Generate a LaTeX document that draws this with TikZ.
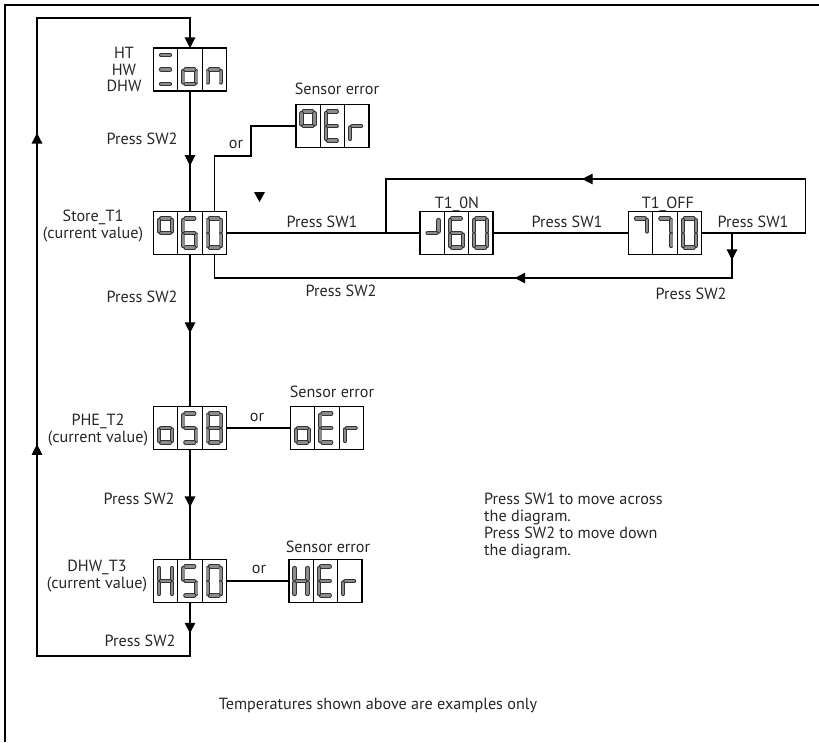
\documentclass[tikz,border=0pt]{standalone}
\usepackage{fontspec}
\setmainfont{PT Sans}
\usetikzlibrary{arrows.meta,positioning,decorations.markings}

% segments of one display cell (a..g), in pixels from the cell's top left corner
\newcommand{\lcda}{(7.5,7)--(16.5,7)}
\newcommand{\lcdb}{(18.5,8.5)--(18.5,20)}
\newcommand{\lcdc}{(18.5,23)--(18.5,34.5)}
\newcommand{\lcdd}{(7.5,36)--(16.5,36)}
\newcommand{\lcde}{(5.5,23)--(5.5,34.5)}
\newcommand{\lcdf}{(5.5,8.5)--(5.5,20)}
\newcommand{\lcdg}{(7.5,21.5)--(16.5,21.5)}

\newcommand{\lcdcell}[2]{%
  \foreach \s in {#2}{\draw[lcdseg,shift={(#1.north west)}] \csname lcd\s\endcsname;}}

% display with three cells: name, x, y, segments of each cell
\newcommand{\lcd}[6]{%
  \node[cell] (#1-2) at (#2,#3) {};
  \node[cell,left=0pt of #1-2] (#1-1) {};
  \node[cell,right=0pt of #1-2] (#1-3) {};
  \lcdcell{#1-1}{#4}\lcdcell{#1-2}{#5}\lcdcell{#1-3}{#6}}

\tikzset{
  cell/.style={draw,line width=0.9pt,minimum width=0.73cm,minimum height=1.29cm,inner sep=0pt,outer sep=0pt},
  lcdseg/.style={draw=black!80,line width=0.8pt,double=black!45,double distance=2pt,line cap=round},
  lbl/.style={font=\fontsize{13.8}{14.3}\selectfont,text=black!85,inner sep=0pt},
  flow/.style={line width=1pt},
  tipat/.style={postaction={decorate,decoration={markings,
      mark=at position #1 with {\arrow{Triangle[width=9pt,length=9pt]}}}}},
}

\begin{document}
\begin{tikzpicture}[x=0.03cm,y=-0.03cm]
    \useasboundingbox (0,0) rectangle (819,742);
    \draw[line width=1.6pt] (5,742) -- (5,5) -- (819,5);

    % displays
    \lcd{on}{190}{69.5}{a,g,d}{c,d,e,g}{c,e,g}
    \lcd{t1}{190}{233}{a,b,f,g}{a,c,d,e,f,g}{a,b,c,d,e,f}
    \lcd{er1}{332.5}{126}{a,b,f,g}{a,d,e,f,g}{e,g}
    \lcd{t1on}{456.5}{233}{b,g}{a,c,d,e,f,g}{a,b,c,d,e,f}
    \lcd{t1off}{665}{233}{a,b}{a,b,c}{a,b,c,d,e,f}
    \lcd{t2}{190}{428}{c,d,e,g}{a,c,d,f,g}{a,b,c,d,e,f,g}
    \lcd{er2}{327}{428}{c,d,e,g}{a,d,e,f,g}{e,g}
    \lcd{t3}{190}{581}{b,c,e,f,g}{a,c,d,f,g}{a,b,c,d,e,f}
    \lcd{er3}{325.5}{581}{b,c,e,f,g}{a,d,e,f,g}{e,g}

    % labels
    \node[lbl,align=center] (lon) at (124,69.5) {HT\\HW\\DHW};
    \node[lbl,align=center] (lt1) at (93,226) {Store\_T1\\(current value)};
    \node[lbl,align=center] (lt2) at (98,430) {PHE\_T2\\(current value)};
    \node[lbl,align=center] (lt3) at (97,576) {DHW\_T3\\(current value)};
    \node[lbl] (se1) at (337,89) {Sensor error};
    \node[lbl] (se2) at (332,392) {Sensor error};
    \node[lbl] (se3) at (328,547) {Sensor error};
    \node[lbl] (lon1) at (457,204) {T1\_0N};
    \node[lbl] (loff) at (668,204) {T1\_OFF};
    \node[lbl] (or1) at (236,144) {or};
    \node[lbl] (or2) at (257,417) {or};
    \node[lbl] (or3) at (259,569) {or};
    \node[lbl] (p1) at (142,139) {Press SW2};
    \node[lbl] (p2) at (142,297) {Press SW2};
    \node[lbl] (p3) at (139,499) {Press SW2};
    \node[lbl] (p4) at (140,641) {Press SW2};
    \node[lbl] (p5) at (322,222) {Press SW1};
    \node[lbl] (p6) at (567,222) {Press SW1};
    \node[lbl] (p7) at (753,222) {Press SW1};
    \node[lbl] (p8) at (341,291) {Press SW2};
    \node[lbl] (p9) at (691,294) {Press SW2};
    \node[lbl,align=left,anchor=west] (note) at (484,526)
        {Press SW1 to move across\\the diagram.\\Press SW2 to move down\\the diagram.};
    \node[lbl] (foot) at (378,705) {Temperatures shown above are examples only};

    % down the column
    \draw[flow,tipat=0.62] (on-2.south) -- (t1-2.north);
    \draw[flow,tipat=0.516] (t1-2.south) -- (t2-2.north);
    \draw[flow,tipat=0.523] (t2-2.south) -- (t3-2.north);
    \coordinate (lb) at (37,656);
    \coordinate (lt) at (37,18);
    \draw[flow,-{Triangle[width=9pt,length=9pt]},tipat/.list={0.03,0.407,0.71}]
        (t3-2.south) |- (lb) -- (lt) -| (on-2.north);

    % sensor errors
    \coordinate (jo) at (251,156);
    \draw[flow] (t1-3.north) |- (jo) |- (er1-1.west);
    \draw[flow] (t2-3.east) -- (er2-1.west);
    \draw[flow] (t3-3.east) -- (er3-1.west);

    % across
    \coordinate (jl) at (386,233);
    \coordinate (jd) at (732,233);
    \draw[flow] (t1-3.east) -- (t1on-1.west);
    \draw[flow] (t1on-3.east) -- (t1off-1.west);
    \draw[flow,tipat=0.604] (t1off-3.east) -| ++(104,-54) -| (jl);
    \draw[flow,tipat/.list={0.046,0.4475}] (jd) -- ++(0,45) -| (t1-3.south);

    \fill (254,192) -- (265,192) -- (259.5,202) -- cycle;
\end{tikzpicture}
\end{document}
